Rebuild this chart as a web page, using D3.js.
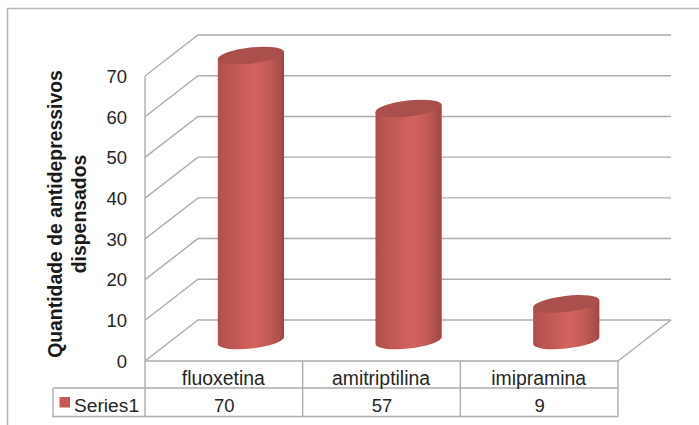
<!DOCTYPE html>
<html>
<head>
<meta charset="utf-8">
<script src="https://cdn.jsdelivr.net/npm/d3@7/dist/d3.min.js"></script>
<style>
  html, body { margin: 0; padding: 0; background: #fff; }
  svg { display: block; }
  text { font-family: "Liberation Sans", Arial, sans-serif; }
</style>
</head>
<body>
<svg id="chart" width="699" height="425"></svg>
<script>
const categories = ["fluoxetina", "amitriptilina", "imipramina"];
const seriesName = "Series1";
const seriesValues = [70, 57, 9];
const yTicks = [0, 10, 20, 30, 40, 50, 60, 70];
const axisTitleLines = ["Quantidade de antidepressivos", "dispensados"];

const svg = d3.select("#chart");
const lineColor = "#adadad";
const textColor = "#262626";

// Oblique projection of the 3D box: how far the back wall sits from the front plane
const depthX = 53, depthY = -41;

const y = d3.scaleLinear().domain([0, 70]).range([361, 76]);
const x = d3.scaleBand().domain(categories).range([145, 618]);

const defs = svg.append("defs");

// Outer chart frame, cut off by the window on the right and at the bottom
svg.append("path")
  .attr("d", "M7.5,425V8.5H699")
  .attr("fill", "none").attr("stroke", "#b8b8b8").attr("stroke-width", 1.6);

// Wall gridlines: front-left edge, diagonal up the side wall, then across the back wall
const grid = svg.append("g").attr("fill", "none").attr("stroke", lineColor).attr("stroke-width", 1.4);
grid.selectAll("path").data(yTicks).join("path")
  .attr("d", t => {
    const p = d3.path();
    p.moveTo(x.range()[0], y(t));
    p.lineTo(x.range()[0] + depthX, y(t) + depthY);
    p.lineTo(x.range()[1] + depthX, y(t) + depthY);
    return p.toString();
  });

// Floor's right-hand edge
const floorEdge = d3.path();
floorEdge.moveTo(x.range()[1], y(0));
floorEdge.lineTo(x.range()[1] + depthX, y(0) + depthY);
grid.append("path").attr("d", floorEdge.toString());

// Value axis: labels only, the vertical line belongs to the data table grid
const axis = svg.append("g")
  .attr("transform", "translate(130,0.5)")
  .call(d3.axisLeft(y).tickValues(yTicks).tickSize(0).tickPadding(3));
axis.select(".domain").remove();
axis.selectAll("text")
  .attr("font-size", 18.5)
  .attr("font-family", "'Liberation Sans', Arial, sans-serif")
  .attr("fill", textColor);

// Cylinders
const rx = 33.3, ry = 8, tilt = -6.5;
const rad = tilt * Math.PI / 180;
const extentX = Math.sqrt(rx * rx * Math.cos(rad) ** 2 + ry * ry * Math.sin(rad) ** 2);
const edgeDy = (rx * rx - ry * ry) * Math.sin(-rad) * Math.cos(rad) / extentX;
const baseY = y(0) + depthY / 2;

const bars = svg.append("g");
categories.forEach((cat, i) => {
  const cx = x(cat) + x.bandwidth() / 2 + depthX / 2 + 0.6;
  const topY = baseY - (y(0) - y(seriesValues[i]));
  const gradId = "cyl" + i;

  const grad = defs.append("linearGradient").attr("id", gradId)
    .attr("gradientUnits", "userSpaceOnUse")
    .attr("x1", cx - extentX).attr("x2", cx + extentX).attr("y1", 0).attr("y2", 0);
  [[0, "#ac4f4a"], [0.1, "#b8544f"], [0.3, "#c45a55"], [0.55, "#d4635e"], [0.78, "#c25a55"], [0.93, "#a94f4a"], [1, "#9c4743"]]
    .forEach(([o, c]) => grad.append("stop").attr("offset", o).attr("stop-color", c));

  const body = `M${cx - extentX},${topY + edgeDy}`
    + `L${cx - extentX},${baseY + edgeDy}`
    + `A${rx},${ry} ${tilt} 0 0 ${cx + extentX},${baseY - edgeDy}`
    + `L${cx + extentX},${topY - edgeDy}Z`;
  bars.append("path").attr("d", body).attr("fill", `url(#${gradId})`);

  bars.append("ellipse")
    .attr("rx", rx).attr("ry", ry)
    .attr("transform", `translate(${cx},${topY}) rotate(${tilt})`)
    .attr("fill", "#aa4f4b");
});

// Data table under the plot
const rowTop = y(0), rowMid = 388, rowBottom = 416.5, legendLeft = 53;
const table = svg.append("g").attr("fill", "none").attr("stroke", lineColor).attr("stroke-width", 1.4);
const tablePath = d3.path();
tablePath.moveTo(x.range()[0], y(70));
tablePath.lineTo(x.range()[0], rowBottom);
tablePath.moveTo(x.range()[0], rowTop);
tablePath.lineTo(x.range()[1], rowTop);
tablePath.moveTo(legendLeft, rowMid);
tablePath.lineTo(x.range()[1], rowMid);
tablePath.moveTo(legendLeft, rowMid);
tablePath.lineTo(legendLeft, rowBottom);
tablePath.lineTo(x.range()[1], rowBottom);
categories.forEach(cat => {
  const right = x(cat) + x.bandwidth();
  tablePath.moveTo(right, rowTop);
  tablePath.lineTo(right, rowBottom);
});
table.append("path").attr("d", tablePath.toString());

const tableText = svg.append("g")
  .attr("font-size", 18.5).attr("fill", textColor).attr("text-anchor", "middle");
tableText.selectAll(".cat").data(categories).join("text").attr("class", "cat")
  .attr("font-size", 19.4)
  .attr("x", d => x(d) + x.bandwidth() / 2 - 0.5)
  .attr("y", 385).text(d => d);
tableText.selectAll(".val").data(seriesValues).join("text").attr("class", "val")
  .attr("x", (d, i) => x(categories[i]) + x.bandwidth() / 2 + 0.5)
  .attr("y", 412).text(d => d);

// Legend key inside the table's row header
svg.append("rect").attr("x", 59.5).attr("y", 397).attr("width", 10.5).attr("height", 10.5).attr("fill", "#c65a55");
svg.append("text").attr("x", 74).attr("y", 412)
  .attr("font-size", 19.2).attr("fill", textColor).text(seriesName);

// Two-line rotated axis title
const title = svg.append("text")
  .attr("transform", "translate(0,214) rotate(-90)")
  .attr("font-size", 19.4).attr("font-weight", "bold").attr("fill", "#1a1a1a")
  .attr("text-anchor", "middle");
axisTitleLines.forEach((line, i) => {
  title.append("tspan").attr("x", 0).attr("y", 62 + i * 24).text(line);
});
</script>
</body>
</html>
